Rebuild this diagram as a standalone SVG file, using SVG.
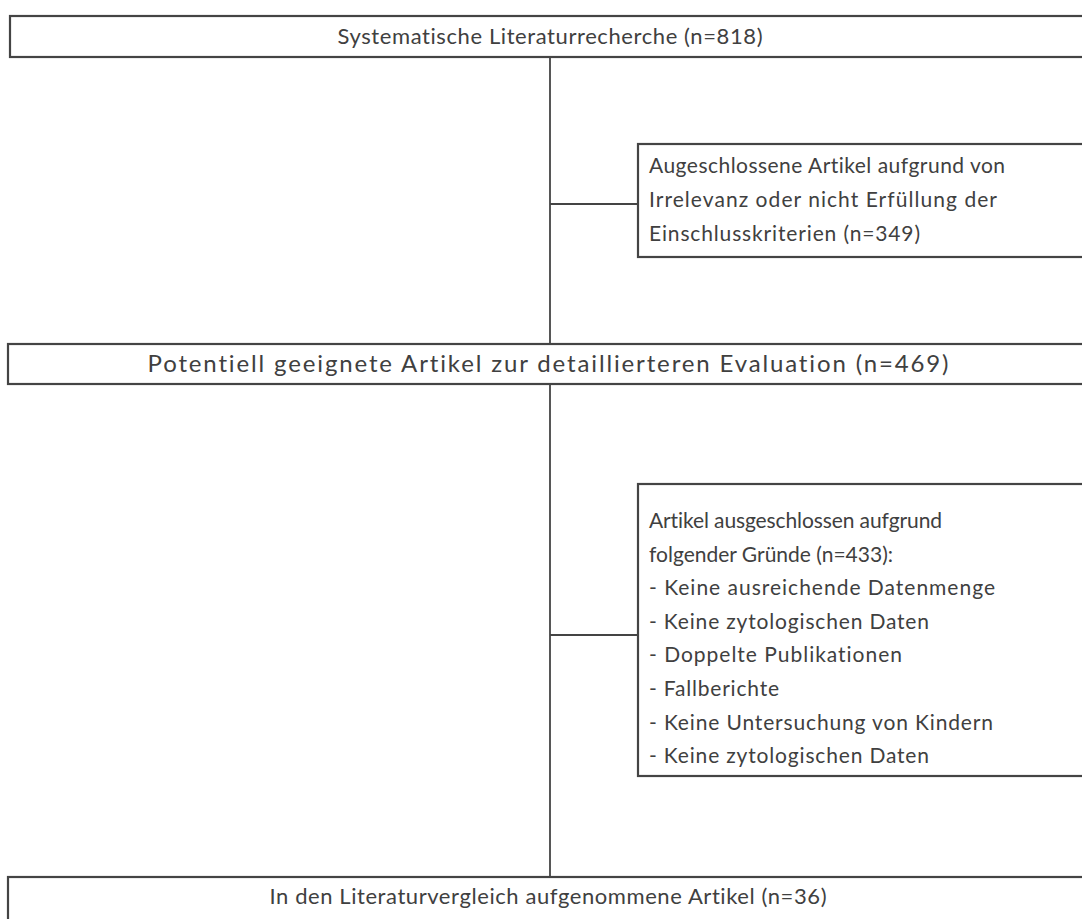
<svg xmlns="http://www.w3.org/2000/svg" width="1082" height="919" viewBox="0 0 1082 919">
<style>
.box{fill:#ffffff;stroke:#444444;stroke-width:2.2}
.con{fill:none;stroke:#444444;stroke-width:1.8}
.t{font-family:Lato,"Open Sans","Liberation Sans",sans-serif;fill:#404040;font-variant-ligatures:none;font-feature-settings:"liga" 0}
.c{font-size:22px;text-anchor:middle}
.l{font-size:21px}
.big{font-size:24px}
</style>
<rect width="1082" height="919" fill="#ffffff"/>
<g id="connectors">
<line class="con" x1="550" y1="57" x2="550" y2="344"/>
<line class="con" x1="550" y1="384" x2="550" y2="877"/>
<line class="con" x1="550" y1="204" x2="638" y2="204"/>
<line class="con" x1="550" y1="635" x2="638" y2="635"/>
</g>
<g id="n1">
<rect class="box" x="10" y="16" width="1090" height="41"/>
<text class="t c" x="550" y="44" textLength="425" lengthAdjust="spacing">Systematische Literaturrecherche (n=818)</text>
</g>
<g id="n2">
<rect class="box" x="638" y="144" width="460" height="113"/>
<text class="t l" x="649" y="173" textLength="356" lengthAdjust="spacing">Augeschlossene Artikel aufgrund von</text>
<text class="t l" x="649" y="207" textLength="348" lengthAdjust="spacing">Irrelevanz oder nicht Erfüllung der</text>
<text class="t l" x="649" y="241" textLength="271" lengthAdjust="spacing">Einschlusskriterien (n=349)</text>
</g>
<g id="n3">
<rect class="box" x="8" y="344" width="1092" height="40"/>
<text class="t c big" x="548" y="372" textLength="801" lengthAdjust="spacing">Potentiell geeignete Artikel zur detaillierteren Evaluation (n=469)</text>
</g>
<g id="n4">
<rect class="box" x="638" y="484" width="460" height="292"/>
<text class="t l" x="649" y="528" textLength="293" lengthAdjust="spacing">Artikel ausgeschlossen aufgrund</text>
<text class="t l" x="649" y="561.5" textLength="244" lengthAdjust="spacing">folgender Gründe (n=433):</text>
<text class="t l" x="649" y="595" textLength="346" lengthAdjust="spacing">- Keine ausreichende Datenmenge</text>
<text class="t l" x="649" y="628.5" textLength="280" lengthAdjust="spacing">- Keine zytologischen Daten</text>
<text class="t l" x="649" y="662" textLength="253" lengthAdjust="spacing">- Doppelte Publikationen</text>
<text class="t l" x="649" y="696" textLength="130" lengthAdjust="spacing">- Fallberichte</text>
<text class="t l" x="649" y="729.5" textLength="344" lengthAdjust="spacing">- Keine Untersuchung von Kindern</text>
<text class="t l" x="649" y="763" textLength="280" lengthAdjust="spacing">- Keine zytologischen Daten</text>
</g>
<g id="n5">
<rect class="box" x="8" y="877" width="1092" height="60"/>
<text class="t c" x="548" y="904" textLength="557" lengthAdjust="spacing">In den Literaturvergleich aufgenommene Artikel (n=36)</text>
</g>
</svg>
